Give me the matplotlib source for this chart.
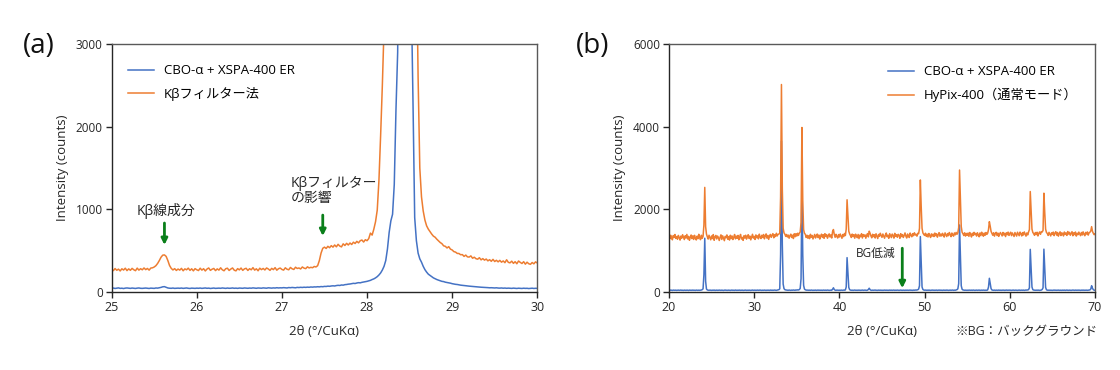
import numpy as np
import matplotlib
matplotlib.use("Agg")
import matplotlib.pyplot as plt

plt.rcParams['font.family'] = ['Open Sans', 'Noto Sans CJK JP', 'DejaVu Sans']

# ---------------- Panel (a) data: 2theta 25..30, step 0.02 ----------------
a_x_start, a_x_end, a_n = 25.0, 30.0, 251
a_blue = [
    44, 47, 42, 46, 49, 43, 45, 41, 46, 48,
    45, 43, 47, 44, 42, 46, 48, 44, 43, 45,
    47, 44, 42, 46, 45, 43, 48, 46, 50, 55,
    62, 64, 56, 48, 45, 44, 47, 43, 45, 46,
    44, 47, 43, 45, 48, 44, 42, 46, 45, 43,
    46, 44, 47, 43, 45, 48, 44, 46, 42, 45,
    47, 43, 45, 46, 44, 48, 45, 43, 47, 44,
    45, 48, 44, 46, 43, 47, 45, 44, 48, 46,
    44, 47, 45, 49, 46, 44, 48, 46, 45, 49,
    47, 45, 50, 48, 46, 49, 47, 51, 48, 50,
    49, 52, 50, 48, 53, 51, 54, 52, 50, 55,
    53, 56, 54, 57, 55, 58, 56, 60, 58, 61,
    60, 63, 61, 65, 63, 67, 66, 70, 68, 72,
    74, 72, 77, 80, 78, 84, 82, 88, 90, 94,
    96, 100, 104, 102, 108, 112, 110, 116, 120, 124,
    128, 134, 140, 150, 158, 170, 185, 205, 230, 265,
    310, 380, 520, 720, 860, 940, 1300, 2200, 2900, 5500,
    12000, 22000, 26000, 21000, 12000, 6500, 3600, 2300, 900, 620,
    470, 400, 360, 310, 270, 240, 215, 200, 185, 170,
    160, 150, 142, 135, 128, 125, 118, 114, 110, 106,
    100, 96, 92, 90, 86, 82, 80, 77, 75, 72,
    70, 68, 66, 64, 62, 60, 59, 57, 56, 55,
    53, 52, 50, 51, 49, 48, 50, 47, 46, 48,
    45, 47, 44, 46, 45, 43, 46, 44, 42, 45,
    44, 42, 45, 43, 44, 41, 43, 45, 42, 44,
    43,
]
a_orange = [
    272, 258, 283, 262, 276, 254, 280, 265, 287, 258,
    279, 262, 285, 268, 257, 288, 264, 281, 268, 290,
    270, 284, 264, 289, 292, 302, 318, 345, 380, 420,
    445, 448, 430, 380, 320, 285, 266, 282, 260, 277,
    264, 285, 256, 279, 268, 288, 261, 280, 255, 282,
    268, 259, 287, 264, 281, 254, 277, 290, 261, 275,
    284, 258, 279, 264, 292, 268, 256, 281, 287, 260,
    277, 290, 263, 255, 282, 267, 289, 261, 279, 286,
    260, 281, 268, 294, 264, 280, 256, 287, 270, 284,
    266, 290, 278, 261, 285, 270, 294, 263, 281, 289,
    272, 264, 292, 275, 268, 296, 280, 272, 299, 284,
    290, 278, 302, 288, 282, 304, 290, 298, 293, 308,
    302, 318, 380, 470, 528, 542, 526, 552, 535, 560,
    542, 568, 546, 576, 555, 545, 582, 562, 588, 568,
    592, 574, 602, 586, 612, 594, 620, 628, 604, 632,
    620, 645, 712, 688, 760, 850, 990, 1350, 1900, 2500,
    3200, 4500, 7000, 11000, 16000, 22000, 30000, 40000, 50000, 60000,
    65000, 68000, 65000, 58000, 45000, 32000, 20000, 12000, 7000, 4200,
    2600, 1500, 1150, 980, 870, 800, 760, 730, 700, 675,
    662, 638, 618, 598, 584, 558, 552, 532, 548, 518,
    508, 488, 482, 466, 465, 450, 452, 430, 446, 424,
    422, 436, 408, 420, 402, 396, 414, 388, 403, 385,
    398, 376, 390, 371, 394, 368, 383, 364, 382, 360,
    375, 354, 389, 358, 352, 372, 346, 366, 341, 374,
    358, 344, 366, 336, 360, 341, 334, 356, 340, 364,
    350,
]
a_xticks = [25, 26, 27, 28, 29, 30]
a_yticks = [0, 1000, 2000, 3000]

# ---------------- Panel (b) data: 2theta 20..70, step 0.1 ----------------
b_x_start, b_x_end, b_n = 20.0, 70.0, 501
b_blue = [
    42, 38, 45, 40, 36, 44, 41, 39, 43, 37,
    40, 44, 38, 42, 45, 39, 41, 37, 43, 40,
    38, 43, 41, 36, 44, 40, 42, 38, 45, 39,
    41, 37, 44, 40, 38, 43, 39, 42, 46, 55,
    75, 420, 1300, 260, 70, 48, 42, 39, 44, 40,
    38, 42, 40, 45, 37, 41, 43, 39, 40, 44,
    41, 38, 43, 40, 36, 42, 45, 39, 41, 38,
    43, 40, 37, 42, 44, 39, 41, 38, 45, 40,
    39, 42, 40, 44, 38, 41, 43, 37, 40, 42,
    44, 38, 41, 39, 43, 40, 37, 42, 45, 39,
    41, 43, 38, 40, 44, 39, 42, 45, 40, 38,
    42, 39, 44, 41, 37, 43, 40, 42, 38, 45,
    40, 43, 39, 42, 45, 41, 38, 44, 48, 55,
    75, 900, 3650, 1150, 190, 80, 55, 48, 44, 42,
    40, 45, 42, 38, 44, 41, 46, 43, 40, 48,
    45, 50, 47, 58, 85, 320, 2600, 900, 160, 70,
    52, 45, 42, 44, 40, 43, 39, 45, 41, 38,
    42, 40, 44, 38, 41, 45, 39, 43, 40, 42,
    38, 44, 41, 40, 43, 39, 45, 42, 38, 41,
    43, 40, 65, 100, 58, 42, 39, 44, 41, 40,
    42, 38, 44, 41, 39, 45, 42, 47, 120, 830,
    480, 110, 55, 44, 40, 43, 38, 42, 45, 40,
    41, 39, 44, 40, 43, 38, 42, 45, 39, 41,
    44, 40, 38, 42, 60, 90, 55, 41, 39, 43,
    40, 42, 45, 39, 41, 38, 44, 40, 43, 39,
    42, 38, 41, 44, 40, 43, 39, 42, 38, 45,
    40, 43, 39, 41, 45, 38, 42, 40, 44, 41,
    38, 42, 45, 40, 39, 43, 41, 38, 44, 40,
    43, 39, 41, 45, 40, 42, 38, 44, 41, 46,
    44, 48, 52, 70, 150, 1340, 700, 120, 60, 46,
    42, 45, 40, 43, 39, 44, 41, 38, 42, 45,
    40, 43, 39, 41, 44, 38, 42, 45, 40, 43,
    41, 38, 44, 40, 43, 39, 45, 41, 38, 42,
    44, 40, 42, 45, 39, 43, 41, 48, 55, 75,
    200, 1620, 850, 150, 65, 48, 44, 40, 43, 39,
    42, 38, 44, 41, 40, 43, 39, 45, 41, 38,
    40, 44, 39, 42, 45, 38, 41, 43, 40, 44,
    41, 39, 43, 40, 48, 120, 330, 200, 80, 48,
    42, 40, 44, 38, 43, 41, 39, 45, 40, 42,
    39, 43, 41, 44, 38, 42, 45, 40, 43, 41,
    44, 40, 38, 42, 45, 39, 41, 43, 40, 38,
    42, 45, 39, 41, 43, 40, 44, 38, 42, 46,
    44, 48, 55, 100, 1030, 580, 120, 55, 45, 42,
    40, 43, 39, 44, 41, 38, 42, 45, 60, 100,
    1035, 560, 110, 52, 43, 40, 44, 39, 42, 41,
    38, 42, 45, 40, 43, 39, 41, 44, 38, 42,
    41, 39, 43, 40, 44, 38, 42, 45, 40, 39,
    43, 40, 38, 42, 45, 41, 39, 44, 40, 43,
    40, 44, 41, 38, 43, 40, 45, 39, 42, 41,
    43, 39, 42, 45, 48, 70, 150, 90, 55, 42,
    40,
]
b_orange = [
    1350, 1285, 1372, 1310, 1262, 1365, 1318, 1390, 1295, 1340,
    1275, 1368, 1320, 1255, 1352, 1300, 1385, 1330, 1268, 1360,
    1305, 1392, 1282, 1345, 1250, 1322, 1378, 1290, 1358, 1270,
    1370, 1300, 1258, 1350, 1288, 1395, 1315, 1265, 1372, 1298,
    1345, 1620, 2530, 1580, 1400, 1335, 1280, 1372, 1318, 1262,
    1355, 1292, 1388, 1250, 1330, 1368, 1282, 1352, 1310, 1245,
    1322, 1382, 1270, 1358, 1300, 1240, 1345, 1312, 1380, 1275,
    1338, 1255, 1372, 1290, 1355, 1268, 1325, 1390, 1285, 1350,
    1298, 1368, 1262, 1335, 1392, 1280, 1320, 1248, 1360, 1305,
    1372, 1278, 1340, 1385, 1295, 1352, 1260, 1328, 1395, 1302,
    1345, 1270, 1380, 1312, 1358, 1285, 1398, 1330, 1292, 1372,
    1318, 1390, 1285, 1355, 1405, 1302, 1368, 1272, 1348, 1392,
    1322, 1375, 1410, 1310, 1385, 1342, 1420, 1355, 1395, 1400,
    1420, 2300, 5020, 2500, 1540, 1430, 1398, 1345, 1390, 1330,
    1375, 1300, 1362, 1398, 1318, 1372, 1292, 1408, 1335, 1410,
    1352, 1420, 1368, 1425, 1450, 1680, 3980, 2220, 1510, 1420,
    1395, 1318, 1372, 1300, 1360, 1290, 1395, 1325, 1368, 1282,
    1340, 1392, 1305, 1362, 1400, 1315, 1378, 1280, 1352, 1398,
    1320, 1385, 1298, 1410, 1342, 1388, 1300, 1362, 1405, 1330,
    1380, 1305, 1460, 1510, 1390, 1322, 1395, 1345, 1305, 1388,
    1330, 1402, 1352, 1298, 1390, 1338, 1415, 1365, 1520, 2230,
    1860, 1470, 1405, 1365, 1318, 1400, 1340, 1385, 1300, 1398,
    1358, 1312, 1392, 1290, 1375, 1335, 1410, 1305, 1388, 1350,
    1382, 1300, 1370, 1412, 1332, 1470, 1420, 1355, 1310, 1395,
    1340, 1385, 1305, 1408, 1352, 1292, 1390, 1345, 1420, 1365,
    1322, 1402, 1350, 1300, 1382, 1425, 1335, 1372, 1298, 1410,
    1360, 1315, 1400, 1368, 1302, 1418, 1345, 1385, 1322, 1395,
    1372, 1298, 1410, 1340, 1388, 1318, 1365, 1428, 1350, 1305,
    1402, 1355, 1318, 1425, 1372, 1335, 1410, 1362, 1432, 1380,
    1395, 1350, 1420, 1410, 1540, 2710, 2070, 1540, 1430, 1392,
    1368, 1420, 1345, 1398, 1330, 1415, 1362, 1318, 1405, 1352,
    1398, 1340, 1425, 1362, 1408, 1325, 1385, 1435, 1348, 1400,
    1355, 1418, 1380, 1328, 1430, 1385, 1340, 1412, 1362, 1438,
    1392, 1338, 1425, 1375, 1350, 1428, 1382, 1440, 1395, 1430,
    1560, 2950, 2270, 1580, 1445, 1410, 1365, 1432, 1352, 1415,
    1370, 1425, 1345, 1438, 1392, 1330, 1420, 1368, 1442, 1385,
    1418, 1352, 1432, 1375, 1335, 1428, 1362, 1445, 1390, 1348,
    1425, 1370, 1438, 1392, 1420, 1510, 1700, 1590, 1465, 1415,
    1372, 1432, 1350, 1418, 1442, 1365, 1425, 1345, 1400, 1438,
    1395, 1355, 1440, 1378, 1420, 1340, 1432, 1385, 1448, 1368,
    1415, 1445, 1362, 1428, 1385, 1342, 1438, 1392, 1352, 1445,
    1402, 1360, 1448, 1410, 1355, 1435, 1378, 1452, 1398, 1350,
    1428, 1380, 1450, 1510, 2430, 1960, 1520, 1440, 1410, 1370,
    1438, 1388, 1445, 1355, 1420, 1452, 1395, 1460, 1450, 1490,
    2390, 1920, 1520, 1440, 1415, 1368, 1442, 1398, 1355, 1432,
    1392, 1448, 1362, 1425, 1458, 1375, 1438, 1350, 1410, 1455,
    1365, 1432, 1408, 1355, 1450, 1392, 1428, 1368, 1462, 1400,
    1442, 1372, 1418, 1458, 1360, 1432, 1390, 1450, 1352, 1420,
    1385, 1448, 1402, 1362, 1438, 1378, 1455, 1398, 1360, 1440,
    1400, 1452, 1375, 1430, 1445, 1475, 1580, 1465, 1420, 1385,
    1405,
]
b_xticks = [20, 30, 40, 50, 60, 70]
b_yticks = [0, 2000, 4000, 6000]

a_labels = ['CBO-α + XSPA-400 ER', 'Kβフィルター法']
b_labels = ['CBO-α + XSPA-400 ER', 'HyPix-400（通常モード）']
xlabel = '2θ (°/CuKα)'
ylabel = 'Intensity (counts)'

BLUE = '#4472C4'
ORANGE = '#ED7D31'
GREEN = '#0A7F1A'
TXT = '#262626'

fig = plt.figure(figsize=(11.2, 3.7), dpi=100)
axA = fig.add_axes([0.0997, 0.211, 0.380, 0.670])
axB = fig.add_axes([0.5973, 0.211, 0.3804, 0.670])


def style(ax):
    for s in ['left', 'bottom']:
        ax.spines[s].set_color(TXT)
        ax.spines[s].set_linewidth(1.0)
    for s in ['top', 'right']:
        ax.spines[s].set_color('#595959')
        ax.spines[s].set_linewidth(1.0)
    ax.tick_params(axis='both', which='both', direction='out', length=4.5,
                   width=1.0, color=TXT, labelsize=8.5,
                   labelcolor=TXT, pad=2,
                   top=False, right=False)
    ax.tick_params(axis='x', labelsize=9)
    ax.set_xlabel(xlabel, fontsize=9.5, color=TXT, labelpad=8)
    ax.set_ylabel(ylabel, fontsize=9.5, color=TXT, labelpad=5)


# Panel (a)
xa = np.linspace(a_x_start, a_x_end, a_n)
axA.plot(xa, a_blue, color=BLUE, lw=1.1, label=a_labels[0])
axA.plot(xa, a_orange, color=ORANGE, lw=1.1, label=a_labels[1])
axA.set_xlim(25, 30)
axA.set_ylim(0, 3000)
axA.set_xticks(a_xticks)
axA.set_yticks(a_yticks)
style(axA)
axA.legend(loc='upper left', bbox_to_anchor=(0.038, 0.918), frameon=False,
           fontsize=9.5, handlelength=2.0, handletextpad=0.75, labelspacing=0.72,
           borderaxespad=0, borderpad=0)
axA.text(25.64, 980, 'Kβ線成分', fontsize=10, ha='center', va='center', color=TXT)
axA.text(27.1, 1227, 'Kβフィルター\nの影響', fontsize=10, ha='left', va='center',
         color=TXT, linespacing=1.0)
axA.annotate('', xy=(25.62, 568), xytext=(25.62, 834),
             arrowprops=dict(arrowstyle='-|>', color=GREEN, lw=2, mutation_scale=9,
                             shrinkA=0, shrinkB=0))
axA.annotate('', xy=(27.48, 677), xytext=(27.48, 930),
             arrowprops=dict(arrowstyle='-|>', color=GREEN, lw=2, mutation_scale=9,
                             shrinkA=0, shrinkB=0))

# Panel (b)
xb = np.linspace(b_x_start, b_x_end, b_n)
axB.plot(xb, b_blue, color=BLUE, lw=1.1, label=b_labels[0])
axB.plot(xb, b_orange, color=ORANGE, lw=1.1, label=b_labels[1])
axB.set_xlim(20, 70)
axB.set_ylim(0, 6000)
axB.set_xticks(b_xticks)
axB.set_yticks(b_yticks)
style(axB)
axB.legend(loc='upper left', bbox_to_anchor=(0.514, 0.914), frameon=False,
           fontsize=9.5, handlelength=2.0, handletextpad=0.75, labelspacing=0.72,
           borderaxespad=0, borderpad=0)
axB.text(44.24, 920, 'BG低減', fontsize=8.5, ha='center', va='center', color=TXT)
axB.annotate('', xy=(47.38, 90), xytext=(47.38, 1058),
             arrowprops=dict(arrowstyle='-|>', color=GREEN, lw=2, mutation_scale=9,
                             shrinkA=0, shrinkB=0))
fig.text(1097 / 1120, 1 - 331 / 370, '※BG：バックグラウンド', fontsize=9,
         ha='right', va='center', color=TXT)

fig.text(39 / 1120, 1 - 46 / 370, '(a)', fontsize=20, ha='center', va='center', color='#111111')
fig.text(593 / 1120, 1 - 46 / 370, '(b)', fontsize=20, ha='center', va='center', color='#111111')

fig.savefig('out.png', dpi=100)
